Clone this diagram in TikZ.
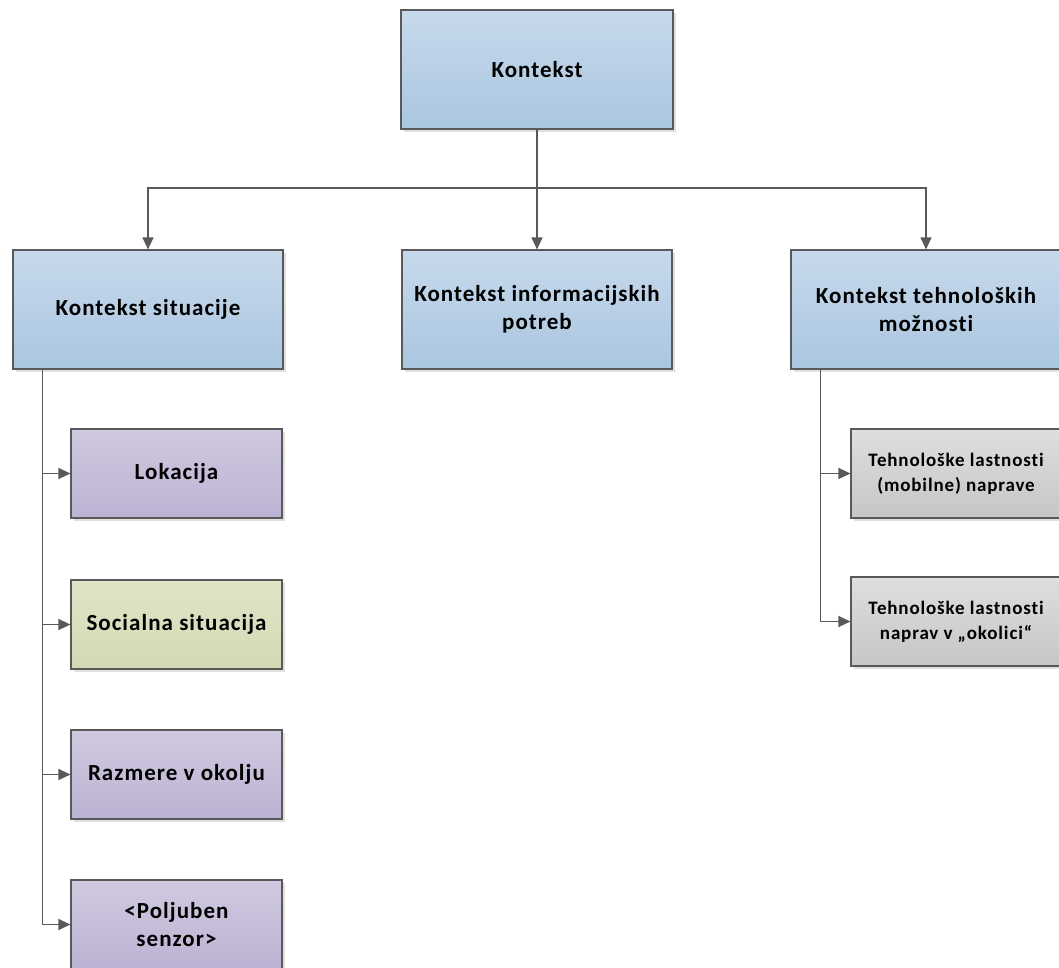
\documentclass[tikz,border=0pt]{standalone}
\usepackage{fontspec}
\setmainfont{Carlito}[LetterSpace=4.5,Ligatures={NoCommon}]
\usetikzlibrary{arrows.meta,shadows}
\definecolor{bluetop}{RGB}{199,217,235}
\definecolor{bluebot}{RGB}{170,198,225}
\definecolor{purtop}{RGB}{208,201,223}
\definecolor{purbot}{RGB}{188,179,211}
\definecolor{grntop}{RGB}{223,230,200}
\definecolor{grnbot}{RGB}{209,217,180}
\definecolor{grytop}{RGB}{222,222,222}
\definecolor{grybot}{RGB}{198,198,198}
\definecolor{edge}{RGB}{89,89,89}
\tikzset{
  box/.style={draw=edge, line width=1.2pt, align=center, inner sep=2pt,
    font=\fontsize{23}{28}\selectfont\bfseries,
    drop shadow={shadow xshift=3pt, shadow yshift=-3pt, fill=black!12, opacity=1}},
  bigbox/.style={box, minimum width=270pt, minimum height=119pt, top color=bluetop, bottom color=bluebot},
  purbox/.style={box, minimum width=211pt, minimum height=89pt, top color=purtop, bottom color=purbot},
  grnbox/.style={box, minimum width=211pt, minimum height=89pt, top color=grntop, bottom color=grnbot},
  grybox/.style={box, minimum width=210pt, minimum height=89pt, top color=grytop, bottom color=grybot,
    font=\fontsize{19}{25}\selectfont\bfseries},
  conn/.style={draw=edge, line width=1.3pt},
  arr/.style={conn, -{Triangle[length=12pt,width=11pt]}}
}
\begin{document}
\begin{tikzpicture}[x=1pt,y=-1pt]
\useasboundingbox (0,0) rectangle (1059,967);
\clip (0,0) rectangle (1059,967);
\node[bigbox, minimum width=272pt] (top) at (537,69.5) {Kontekst};
\node[bigbox] (sit) at (148,309.5) {Kontekst situacije};
\node[bigbox] (inf) at (537,309.5) {Kontekst informacijskih\\potreb};
\node[bigbox] (teh) at (926,309.5) {Kontekst tehnoloških\\možnosti};
\node[purbox] (lok) at (176.5,473.5) {Lokacija};
\node[grnbox] (soc) at (176.5,624.5) {Socialna situacija};
\node[purbox] (raz) at (176.5,774.5) {Razmere v okolju};
\node[purbox] (pol) at (176.5,924.5) {<Poljuben\\senzor>};
\node[grybox] (tl1) at (956,473.5) {Tehnološke lastnosti\\(mobilne) naprave};
\node[grybox] (tl2) at (956,621.5) {Tehnološke lastnosti\\naprav v „okolici“};
\coordinate (bus) at (537,188);
\draw[arr] (top.south) -- (bus) -| (sit.north);
\draw[arr] (bus) -| (teh.north);
\draw[arr] (bus) -- (inf.north);
\coordinate (lt) at ([xshift=30pt]sit.south west);
\foreach \n in {lok,soc,raz,pol} \draw[arr] (lt) |- (\n.west);
\coordinate (rt) at ([xshift=30pt]teh.south west);
\foreach \n in {tl1,tl2} \draw[arr] (rt) |- (\n.west);
\end{tikzpicture}
\end{document}
